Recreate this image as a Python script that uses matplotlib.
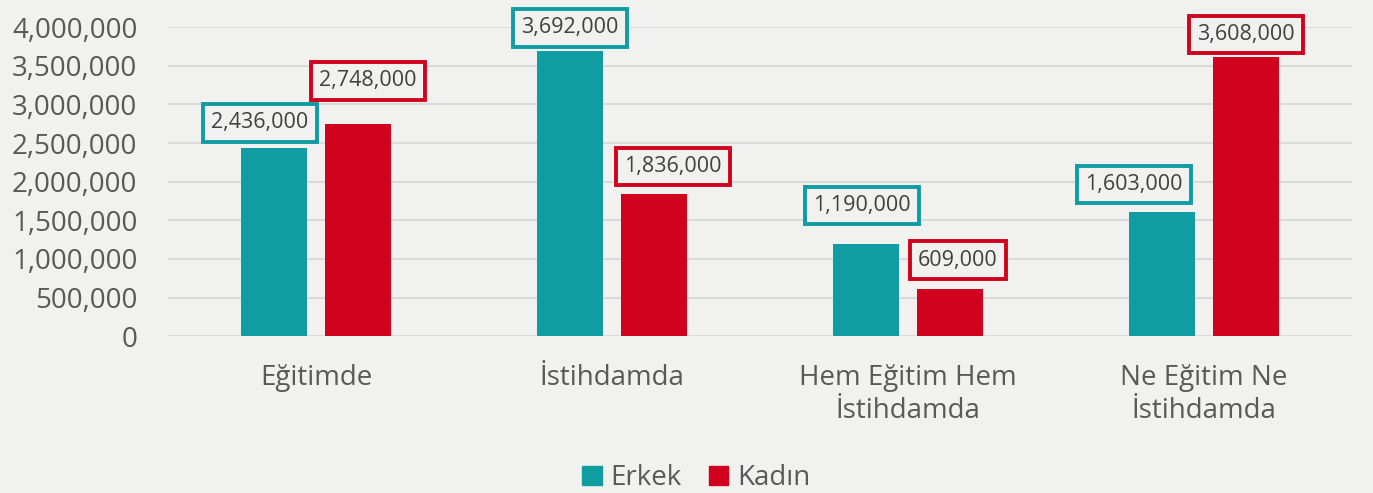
import matplotlib.pyplot as plt
import matplotlib.patches as mpatches
import numpy as np

plt.rcParams["font.family"] = ["Open Sans", "DejaVu Sans"]

# data
categories = ["Eğitimde", "İstihdamda", "Hem Eğitim Hem\nİstihdamda", "Ne Eğitim Ne\nİstihdamda"]
erkek = [2436000, 3692000, 1190000, 1603000]
kadin = [2748000, 1836000, 609000, 3608000]
series_names = ["Erkek", "Kadın"]

TEAL = "#109CA3"
RED = "#D0021E"
BG = "#F1F1EF"

# label box offsets (pixels) relative to bar top centre, as placed in the original
erkek_off = [(-14, 25), (0, 23), (-4, 39), (-28, 28)]
kadin_off = [(10, 43), (19, 28), (8, 29), (0, 23)]

fig = plt.figure(figsize=(13.73, 4.93), dpi=100, facecolor=BG)
ax = fig.add_axes([0.1224, 0.318, 0.8623, 0.627])
ax.set_facecolor(BG)

x = np.arange(len(categories))
w = 0.223
shift = 0.142

b1 = ax.bar(x - shift, erkek, w, color=TEAL, zorder=3)
b2 = ax.bar(x + shift, kadin, w, color=RED, zorder=3)

for bars, vals, offs, col in [(b1, erkek, erkek_off, TEAL), (b2, kadin, kadin_off, RED)]:
    for rect, v, (dx, dy) in zip(bars, vals, offs):
        ax.annotate(
            f"{v:,}",
            (rect.get_x() + rect.get_width() / 2, v),
            xytext=(dx, dy), textcoords="offset pixels",
            ha="center", va="center", fontsize=15.5, color="#404040",
            bbox=dict(boxstyle="square,pad=0.38", fc=BG, ec=col, lw=2.8),
            zorder=5,
        )

ax.set_xlim(-0.5, len(categories) - 0.5)
ax.set_ylim(0, 4000000)
ax.set_yticks(np.arange(0, 4000001, 500000))
ax.yaxis.set_major_formatter(plt.FuncFormatter(lambda v, p: f"{int(v):,}"))
ax.set_xticks(x)
ax.set_xticklabels(categories, linespacing=1.25)
ax.tick_params(axis="both", length=0, labelsize=20, colors="#595959")
ax.tick_params(axis="y", pad=22)
ax.tick_params(axis="x", pad=20)
ax.grid(axis="y", color="#DADADA", linewidth=1.5, zorder=0)
for s in ax.spines.values():
    s.set_visible(False)

handles = [mpatches.Patch(color=TEAL, label=series_names[0]),
           mpatches.Patch(color=RED, label=series_names[1])]
leg = fig.legend(handles=handles, loc="center", bbox_to_anchor=(0.507, 0.03), ncol=2,
                 frameon=False, fontsize=20, handlelength=0.7, handleheight=0.7,
                 handletextpad=0.3, columnspacing=1.0)
for t in leg.get_texts():
    t.set_color("#595959")

fig.savefig("out.png", dpi=100, facecolor=BG)
